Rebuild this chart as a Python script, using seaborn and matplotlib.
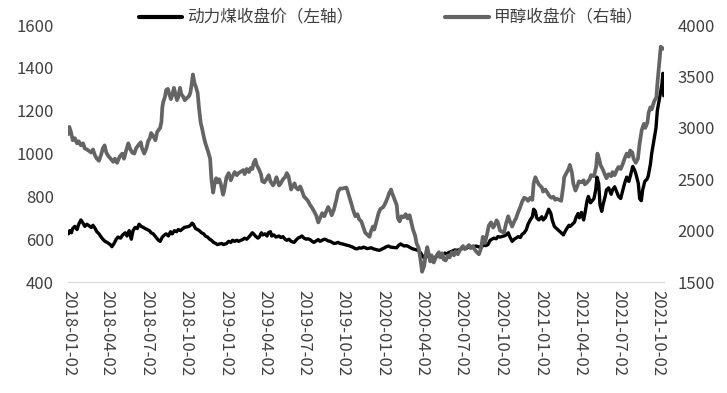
import pandas as pd
import matplotlib.pyplot as plt
import seaborn as sns

# 动力煤收盘价（左轴）
coal_dates = [
    "2018-01-02", "2018-01-05", "2018-01-09", "2018-01-12", "2018-01-17", "2018-01-22", "2018-01-26", "2018-01-31",
    "2018-02-05", "2018-02-09", "2018-02-14", "2018-02-24", "2018-02-28",
    "2018-03-05", "2018-03-09", "2018-03-14", "2018-03-19", "2018-03-23", "2018-03-28",
    "2018-04-02", "2018-04-09", "2018-04-13", "2018-04-18", "2018-04-23", "2018-04-27",
    "2018-05-03", "2018-05-08", "2018-05-14", "2018-05-18", "2018-05-23", "2018-05-28",
    "2018-06-01", "2018-06-06", "2018-06-11", "2018-06-15", "2018-06-20", "2018-06-25", "2018-06-29",
    "2018-07-04", "2018-07-09", "2018-07-13", "2018-07-18", "2018-07-24", "2018-07-30",
    "2018-08-03", "2018-08-08", "2018-08-13", "2018-08-17", "2018-08-22", "2018-08-27", "2018-08-31",
    "2018-09-05", "2018-09-10", "2018-09-14", "2018-09-19", "2018-09-25", "2018-09-28",
    "2018-10-09", "2018-10-12", "2018-10-16", "2018-10-19", "2018-10-24", "2018-10-29",
    "2018-11-02", "2018-11-07", "2018-11-12", "2018-11-16", "2018-11-21", "2018-11-26", "2018-11-30",
    "2018-12-05", "2018-12-10", "2018-12-14", "2018-12-19", "2018-12-24", "2018-12-28",
    "2019-01-04", "2019-01-09", "2019-01-14", "2019-01-18", "2019-01-23", "2019-01-28",
    "2019-02-01", "2019-02-12", "2019-02-15", "2019-02-20", "2019-02-25",
    "2019-03-01", "2019-03-05", "2019-03-08", "2019-03-12", "2019-03-18", "2019-03-21", "2019-03-26", "2019-03-29",
    "2019-04-03", "2019-04-08", "2019-04-11", "2019-04-16", "2019-04-19", "2019-04-24", "2019-04-29",
    "2019-05-06", "2019-05-10", "2019-05-15", "2019-05-20", "2019-05-24", "2019-05-29",
    "2019-06-03", "2019-06-10", "2019-06-14", "2019-06-19", "2019-06-24", "2019-06-28",
    "2019-07-03", "2019-07-08", "2019-07-12", "2019-07-17", "2019-07-22", "2019-07-26", "2019-07-31",
    "2019-08-05", "2019-08-09", "2019-08-14", "2019-08-19", "2019-08-23", "2019-08-28",
    "2019-09-02", "2019-09-06", "2019-09-11", "2019-09-16", "2019-09-20", "2019-09-25", "2019-09-30",
    "2019-10-10", "2019-10-15", "2019-10-21", "2019-10-25", "2019-10-30",
    "2019-11-04", "2019-11-08", "2019-11-13", "2019-11-18", "2019-11-22", "2019-11-27",
    "2019-12-02", "2019-12-06", "2019-12-11", "2019-12-16", "2019-12-20", "2019-12-25", "2019-12-30",
    "2020-01-06", "2020-01-10", "2020-01-15", "2020-01-20",
    "2020-02-03", "2020-02-07", "2020-02-12", "2020-02-17", "2020-02-21", "2020-02-26",
    "2020-03-02", "2020-03-06", "2020-03-11", "2020-03-16", "2020-03-20", "2020-03-25", "2020-03-30",
    "2020-04-02", "2020-04-07", "2020-04-10", "2020-04-15", "2020-04-20", "2020-04-24", "2020-04-29",
    "2020-05-07", "2020-05-12", "2020-05-15", "2020-05-20", "2020-05-25", "2020-05-29",
    "2020-06-03", "2020-06-08", "2020-06-12", "2020-06-17", "2020-06-22", "2020-06-29",
    "2020-07-03", "2020-07-08", "2020-07-13", "2020-07-17", "2020-07-22", "2020-07-27", "2020-07-31",
    "2020-08-05", "2020-08-10", "2020-08-14", "2020-08-19", "2020-08-24", "2020-08-28",
    "2020-09-02", "2020-09-07", "2020-09-11", "2020-09-16", "2020-09-21", "2020-09-25", "2020-09-30",
    "2020-10-09", "2020-10-14", "2020-10-19", "2020-10-23", "2020-10-28",
    "2020-11-02", "2020-11-06", "2020-11-11", "2020-11-16", "2020-11-20", "2020-11-25", "2020-11-30",
    "2020-12-04", "2020-12-09", "2020-12-14", "2020-12-17", "2020-12-21", "2020-12-24", "2020-12-29",
    "2021-01-05", "2021-01-08", "2021-01-13", "2021-01-18", "2021-01-21", "2021-01-26", "2021-01-29",
    "2021-02-03", "2021-02-08", "2021-02-19", "2021-02-24",
    "2021-03-01", "2021-03-04", "2021-03-09", "2021-03-12", "2021-03-17", "2021-03-22", "2021-03-25", "2021-03-30",
    "2021-04-02", "2021-04-07", "2021-04-12", "2021-04-15", "2021-04-20", "2021-04-23", "2021-04-28",
    "2021-05-06", "2021-05-10", "2021-05-13", "2021-05-17", "2021-05-20", "2021-05-24", "2021-05-27",
    "2021-06-01", "2021-06-04", "2021-06-09", "2021-06-15", "2021-06-18", "2021-06-23", "2021-06-28",
    "2021-07-02", "2021-07-07", "2021-07-12", "2021-07-16", "2021-07-21", "2021-07-26", "2021-07-30",
    "2021-08-04", "2021-08-09", "2021-08-12", "2021-08-17", "2021-08-20", "2021-08-24", "2021-08-27",
    "2021-09-01", "2021-09-06", "2021-09-09", "2021-09-14", "2021-09-17", "2021-09-22", "2021-09-27", "2021-09-30",
    "2021-10-08", "2021-10-11", "2021-10-13", "2021-10-15",
]
coal_values = [
    625, 640, 630, 650, 660, 645, 670, 690,
    675, 660, 670, 655, 665,
    650, 635, 625, 610, 600, 590,
    585, 575, 565, 580, 600, 610,
    605, 620, 630, 615, 640, 600,
    640, 655, 650, 670, 660, 655, 650,
    645, 640, 630, 625, 610, 595,
    590, 610, 620, 625, 615, 635, 625,
    640, 635, 645, 640, 650, 655,
    660, 665, 675, 670, 650, 645,
    640, 630, 625, 615, 610, 600, 595,
    585, 580, 575, 578, 580, 575,
    580, 590, 585, 595, 590, 595,
    590, 600, 605, 600, 610,
    620, 630, 625, 615, 605, 610, 630, 620,
    625, 615, 630, 635, 615, 620, 610,
    615, 608, 612, 600, 595, 600,
    590, 585, 595, 605, 610, 615,
    605, 600, 602, 598, 590, 585, 592,
    598, 590, 595, 600, 598, 592,
    590, 585, 580, 582, 585, 580, 578,
    572, 570, 565, 562, 556,
    555, 560, 558, 563, 560, 556,
    558, 560, 555, 552, 550, 548, 553,
    560, 565, 568, 563,
    560, 570, 578, 572, 568, 570,
    565, 560, 555, 552, 550, 548, 535,
    525, 512, 520, 525, 510, 518, 512,
    520, 528, 522, 530, 535, 530,
    538, 542, 545, 550, 548, 552,
    555, 560, 556, 562, 565, 560, 566,
    568, 565, 563, 567, 572, 570,
    575, 595, 600, 605, 602, 612, 610,
    615, 620, 630, 610, 590,
    600, 605, 612, 608, 622, 630, 645,
    670, 690, 705, 740, 730, 700, 690,
    705, 690, 700, 725, 740, 720, 690,
    660, 650, 630, 620,
    640, 650, 665, 660, 670, 680, 700, 720,
    700, 725, 690, 720, 780, 800, 770,
    790, 830, 890, 860, 760, 730, 760,
    800, 830, 840, 810, 830, 845, 820,
    800, 790, 830, 860, 890, 870, 900,
    940, 920, 900, 860, 790, 780, 830,
    870, 880, 895, 950, 1000, 1060, 1120, 1200,
    1290, 1330, 1375, 1270,
]

# 甲醇收盘价（右轴）
methanol_dates = [
    "2018-01-02", "2018-01-04", "2018-01-08", "2018-01-12", "2018-01-17", "2018-01-22", "2018-01-26", "2018-01-31",
    "2018-02-05", "2018-02-09", "2018-02-14", "2018-02-24", "2018-02-28",
    "2018-03-05", "2018-03-09", "2018-03-14", "2018-03-19", "2018-03-23", "2018-03-27", "2018-03-31",
    "2018-04-04", "2018-04-10", "2018-04-16", "2018-04-20", "2018-04-25",
    "2018-05-01", "2018-05-07", "2018-05-11", "2018-05-16", "2018-05-21", "2018-05-25", "2018-05-30",
    "2018-06-04", "2018-06-08", "2018-06-13", "2018-06-19", "2018-06-22", "2018-06-27",
    "2018-07-02", "2018-07-06", "2018-07-10", "2018-07-13", "2018-07-18", "2018-07-23", "2018-07-27",
    "2018-08-01", "2018-08-03", "2018-08-06", "2018-08-08", "2018-08-10", "2018-08-14", "2018-08-17",
    "2018-08-21", "2018-08-24", "2018-08-28", "2018-08-31",
    "2018-09-04", "2018-09-07", "2018-09-11", "2018-09-14", "2018-09-18", "2018-09-21", "2018-09-26", "2018-09-29",
    "2018-10-09", "2018-10-12", "2018-10-15", "2018-10-18", "2018-10-22", "2018-10-25", "2018-10-29",
    "2018-11-01", "2018-11-05", "2018-11-08", "2018-11-13", "2018-11-16", "2018-11-20", "2018-11-23", "2018-11-27", "2018-11-30",
    "2018-12-04", "2018-12-07", "2018-12-11", "2018-12-14", "2018-12-18", "2018-12-22", "2018-12-27", "2018-12-29",
    "2019-01-04", "2019-01-09", "2019-01-14", "2019-01-18", "2019-01-23", "2019-01-28",
    "2019-02-01", "2019-02-12", "2019-02-15", "2019-02-20", "2019-02-25",
    "2019-03-01", "2019-03-05", "2019-03-08", "2019-03-12", "2019-03-15", "2019-03-20", "2019-03-25", "2019-03-28",
    "2019-04-02", "2019-04-08", "2019-04-12", "2019-04-16", "2019-04-22", "2019-04-26", "2019-04-30",
    "2019-05-06", "2019-05-10", "2019-05-15", "2019-05-20", "2019-05-24", "2019-05-28",
    "2019-06-03", "2019-06-06", "2019-06-11", "2019-06-14", "2019-06-19", "2019-06-24", "2019-06-28",
    "2019-07-03", "2019-07-08", "2019-07-12", "2019-07-17", "2019-07-22", "2019-07-26", "2019-07-31",
    "2019-08-05", "2019-08-09", "2019-08-14", "2019-08-19", "2019-08-23", "2019-08-28",
    "2019-09-02", "2019-09-05", "2019-09-10", "2019-09-16", "2019-09-20", "2019-09-25", "2019-09-30",
    "2019-10-09", "2019-10-11", "2019-10-16", "2019-10-21", "2019-10-25", "2019-10-30",
    "2019-11-04", "2019-11-08", "2019-11-13", "2019-11-18", "2019-11-22", "2019-11-27",
    "2019-12-02", "2019-12-05", "2019-12-10", "2019-12-13", "2019-12-18", "2019-12-23", "2019-12-27",
    "2020-01-03", "2020-01-08", "2020-01-13", "2020-01-16", "2020-01-21", "2020-01-23",
    "2020-02-03", "2020-02-06", "2020-02-10", "2020-02-14", "2020-02-19", "2020-02-24", "2020-02-28",
    "2020-03-04", "2020-03-09", "2020-03-12", "2020-03-17", "2020-03-20", "2020-03-25", "2020-03-30",
    "2020-04-02", "2020-04-07", "2020-04-10", "2020-04-14", "2020-04-17", "2020-04-21", "2020-04-24", "2020-04-29",
    "2020-05-06", "2020-05-11", "2020-05-14", "2020-05-19", "2020-05-22", "2020-05-27",
    "2020-06-01", "2020-06-05", "2020-06-10", "2020-06-15", "2020-06-19", "2020-06-24", "2020-06-30",
    "2020-07-06", "2020-07-10", "2020-07-15", "2020-07-20", "2020-07-24", "2020-07-29",
    "2020-08-03", "2020-08-07", "2020-08-12", "2020-08-17", "2020-08-21", "2020-08-26", "2020-08-31",
    "2020-09-04", "2020-09-09", "2020-09-14", "2020-09-17", "2020-09-22", "2020-09-25", "2020-09-30",
    "2020-10-09", "2020-10-14", "2020-10-19", "2020-10-23", "2020-10-28",
    "2020-11-02", "2020-11-06", "2020-11-11", "2020-11-16", "2020-11-20", "2020-11-25", "2020-11-30",
    "2020-12-04", "2020-12-09", "2020-12-14", "2020-12-17", "2020-12-21", "2020-12-24", "2020-12-29",
    "2021-01-05", "2021-01-08", "2021-01-13", "2021-01-18", "2021-01-22", "2021-01-27",
    "2021-02-01", "2021-02-05", "2021-02-09", "2021-02-19", "2021-02-24", "2021-02-26",
    "2021-03-03", "2021-03-08", "2021-03-11", "2021-03-16", "2021-03-19", "2021-03-24", "2021-03-29",
    "2021-04-01", "2021-04-07", "2021-04-12", "2021-04-15", "2021-04-20", "2021-04-26", "2021-04-29",
    "2021-05-06", "2021-05-11", "2021-05-14", "2021-05-18", "2021-05-21", "2021-05-26",
    "2021-06-01", "2021-06-04", "2021-06-09", "2021-06-15", "2021-06-18", "2021-06-23", "2021-06-28",
    "2021-07-02", "2021-07-07", "2021-07-12", "2021-07-16", "2021-07-21", "2021-07-26", "2021-07-29",
    "2021-08-03", "2021-08-06", "2021-08-11", "2021-08-16", "2021-08-20", "2021-08-25", "2021-08-30",
    "2021-09-02", "2021-09-07", "2021-09-10", "2021-09-14", "2021-09-17", "2021-09-23", "2021-09-28", "2021-09-30",
    "2021-10-08", "2021-10-11", "2021-10-13",
]
methanol_values = [
    2940, 3010, 2960, 2880, 2900, 2850, 2870, 2830,
    2850, 2800, 2790, 2760, 2790,
    2730, 2700, 2680, 2740, 2800, 2830, 2760,
    2730, 2700, 2670, 2700, 2660,
    2720, 2750, 2700, 2780, 2850, 2800, 2760,
    2750, 2800, 2830, 2860, 2800, 2750,
    2800, 2870, 2900, 2950, 2920, 2880, 2960,
    2990, 3000, 3060, 3200, 3250, 3300, 3370,
    3380, 3330, 3280, 3320,
    3390, 3340, 3270, 3300, 3390, 3330, 3300, 3270,
    3310, 3340, 3420, 3520, 3430, 3400, 3340,
    3200, 3050, 3000, 2900, 2850, 2800, 2760, 2700, 2500,
    2370, 2450, 2510, 2470, 2500, 2450, 2350, 2380,
    2520, 2560, 2490, 2530, 2570, 2540,
    2560, 2590, 2550, 2600, 2570,
    2610, 2600, 2660, 2690, 2640, 2600, 2550, 2480,
    2470, 2510, 2540, 2480, 2440, 2470, 2520,
    2440, 2460, 2500, 2520, 2560, 2530,
    2400, 2430, 2460, 2420, 2400, 2430, 2390,
    2330, 2310, 2290, 2250, 2220, 2190, 2150,
    2080, 2120, 2170, 2140, 2180, 2230,
    2190, 2150, 2200, 2300, 2380, 2410, 2410,
    2420, 2400, 2330, 2260, 2200, 2140,
    2160, 2110, 2090, 2030, 1980, 1960,
    1940, 1990, 2040, 2010, 2090, 2170, 2210,
    2230, 2270, 2320, 2360, 2400, 2370,
    2250, 2120, 2090, 2140, 2130, 2160, 2120,
    2150, 2060, 2010, 1950, 1880, 1830, 1700,
    1600, 1660, 1760, 1840, 1780, 1700, 1760, 1690,
    1760, 1790, 1740, 1780, 1720, 1710,
    1760, 1740, 1790, 1760, 1800, 1770, 1820,
    1850, 1820, 1840, 1860, 1830, 1850,
    1810, 1790, 1770, 1830, 1940, 1880, 1970,
    2050, 2080, 2030, 2050, 2100, 2080, 2000,
    1980, 2070, 2140, 2090, 2040,
    2090, 2120, 2180, 2230, 2280, 2320, 2310,
    2290, 2320, 2300, 2460, 2520, 2490, 2450,
    2420, 2380, 2400, 2370, 2340, 2320,
    2330, 2300, 2310, 2290, 2440, 2520,
    2560, 2600, 2640, 2560, 2460, 2390, 2440,
    2480, 2470, 2490, 2450, 2470, 2500, 2540,
    2530, 2620, 2750, 2700, 2640, 2600,
    2540, 2510, 2550, 2530, 2570, 2540, 2590,
    2620, 2600, 2650, 2700, 2750, 2720, 2780,
    2760, 2700, 2660, 2700, 2850, 2980, 3040,
    3000, 3050, 3150, 3200, 3180, 3260, 3300, 3420,
    3790, 3780, 3770,
]

tick_labels = [
    "2018-01-02", "2018-04-02", "2018-07-02", "2018-10-02",
    "2019-01-02", "2019-04-02", "2019-07-02", "2019-10-02",
    "2020-01-02", "2020-04-02", "2020-07-02", "2020-10-02",
    "2021-01-02", "2021-04-02", "2021-07-02", "2021-10-02",
]

assert len(coal_dates) == len(coal_values)
assert len(methanol_dates) == len(methanol_values)

sns.set_style("white")
plt.rcParams["font.family"] = ["Noto Sans CJK SC", "DejaVu Sans"]
plt.rcParams["font.weight"] = "light"

df_coal = pd.DataFrame({"date": pd.to_datetime(coal_dates), "value": coal_values})
df_meth = pd.DataFrame({"date": pd.to_datetime(methanol_dates), "value": methanol_values})

fig = plt.figure(figsize=(7.27, 3.93), dpi=100)
ax = fig.add_axes([0.0935, 0.2824, 0.8195, 0.6536])
ax2 = ax.twinx()

sns.lineplot(data=df_coal, x="date", y="value", ax=ax, color="black", linewidth=2.4,
             label="动力煤收盘价（左轴）", legend=False)
sns.lineplot(data=df_meth, x="date", y="value", ax=ax2, color="#646464", linewidth=2.7,
             label="甲醇收盘价（右轴）", legend=False)

ax.set_ylim(400, 1600)
ax2.set_ylim(1500, 4000)
ax.set_yticks(range(400, 1601, 200))
ax2.set_yticks(range(1500, 4001, 500))
ax.set_xlim(pd.Timestamp("2018-01-01"), pd.Timestamp("2021-10-15"))
ax.set_xticks(pd.to_datetime(tick_labels))
ax.set_xticklabels(tick_labels, rotation=270)

text_color = "#404040"
for a in (ax, ax2):
    a.set_xlabel("")
    a.set_ylabel("")
    for side in ("top", "left", "right"):
        a.spines[side].set_visible(False)
    a.spines["bottom"].set_color("#d9d9d9")
    a.tick_params(length=0, labelsize=12, colors=text_color)
ax.tick_params(axis="x", pad=6)
ax.tick_params(axis="y", pad=10)
ax2.tick_params(axis="y", pad=10)

h1, l1 = ax.get_legend_handles_labels()
h2, l2 = ax2.get_legend_handles_labels()
leg = fig.legend(h1 + h2, l1 + l2, loc="center", bbox_to_anchor=(0.538, 0.954),
                 ncol=2, frameon=False, fontsize=12, handlelength=2.6,
                 handletextpad=0.3, columnspacing=5.5)
for t in leg.get_texts():
    t.set_color(text_color)
for ln in leg.get_lines():
    ln.set_linewidth(3)

fig.savefig("out.png", dpi=100)
